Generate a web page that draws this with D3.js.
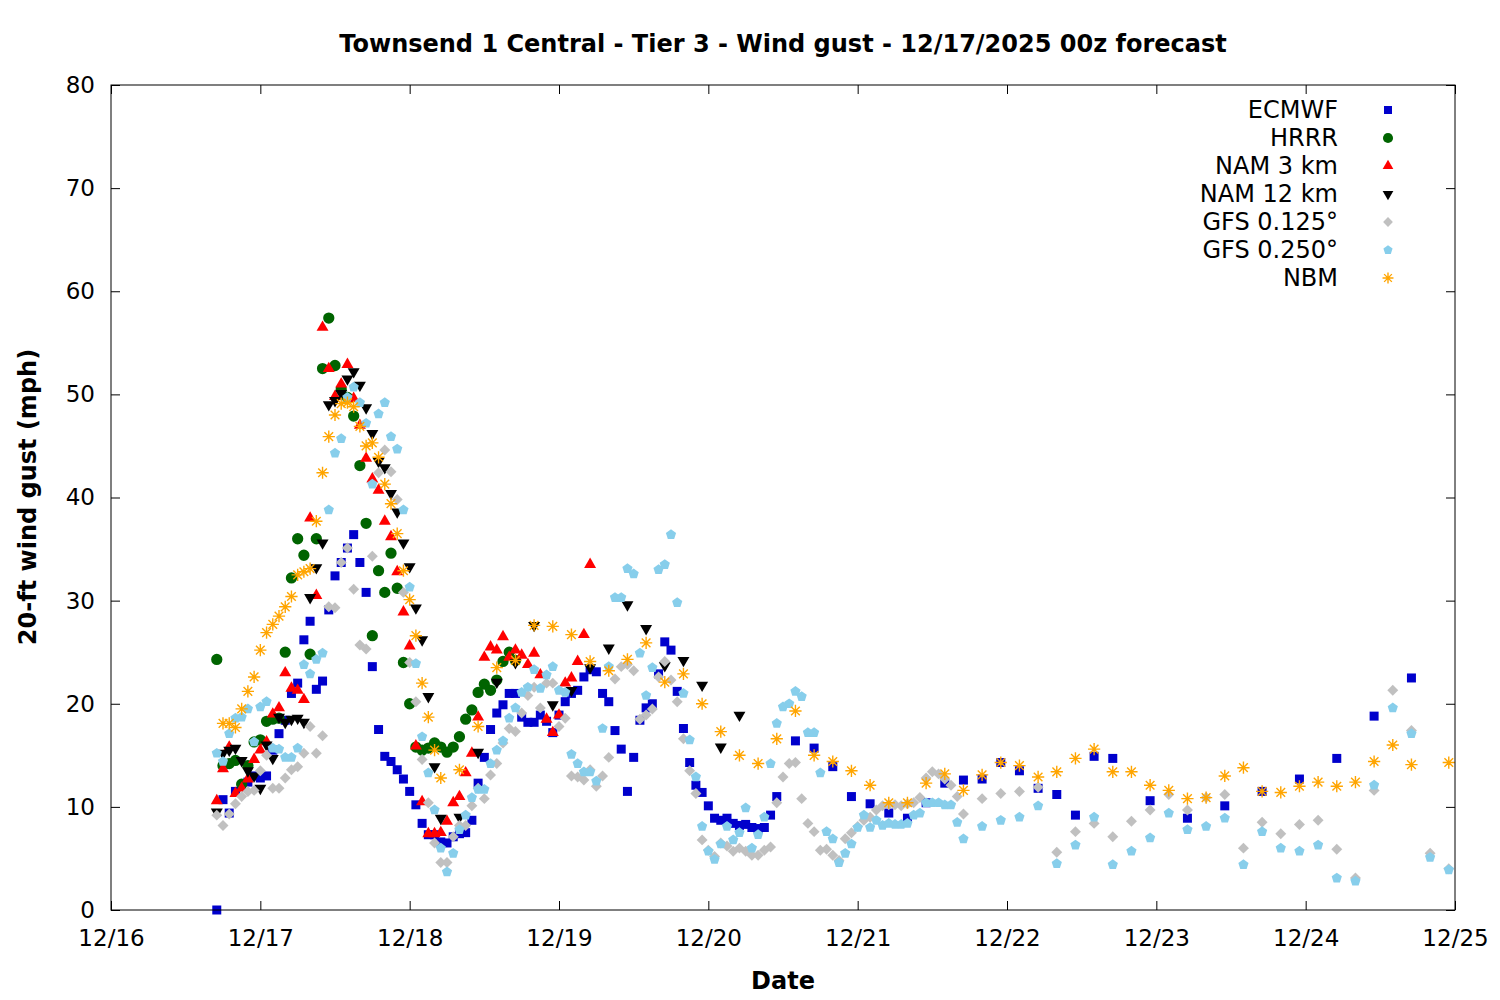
<!DOCTYPE html>
<html>
<head>
<meta charset="utf-8">
<script src="https://cdn.jsdelivr.net/npm/d3@7"></script>
<style>
  body { margin: 0; background: #fff; }
  text { font-family: "DejaVu Sans", sans-serif; }
</style>
</head>
<body>
<svg id="chart" width="1500" height="1000"></svg>
<script>
// --- data (hours after 12/16 17:00 local = 12/17 00z, wind gust mph) ---
const titleText = "Townsend 1 Central - Tier 3 - Wind gust - 12/17/2025 00z forecast";
const runStart = "2025-12-16T17:00:00Z";
const dayTicks = ["2025-12-16", "2025-12-17", "2025-12-18", "2025-12-19", "2025-12-20",
  "2025-12-21", "2025-12-22", "2025-12-23", "2025-12-24", "2025-12-25"];
const yTicks = [0, 10, 20, 30, 40, 50, 60, 70, 80];
const seriesNames = ["ECMWF", "HRRR", "NAM 3 km", "NAM 12 km", "GFS 0.125°", "GFS 0.250°", "NBM"];

const ecmwf = [[0,0],[1,10.7],[2,9.4],[3,11.5],[4,12.0],[5,12.4],[6,13.0],[7,12.8],[8,13.0],[9,15.5],
  [10,17.1],[11,18.4],[12,21.0],[13,22.0],[14,26.2],[15,28.0],[16,21.4],[17,22.2],[18,29.1],[19,32.4],
  [20,33.7],[21,35.1],[22,36.4],[23,33.7],[24,30.8],[25,23.6],[26,17.5],[27,14.9],[28,14.4],[29,13.6],
  [30,12.7],[31,11.5],[32,10.2],[33,8.4],[34,7.3],[35,7.3],[36,6.6],[37,6.5],[38,7.1],[39,7.4],
  [40,7.5],[41,8.7],[42,12.3],[43,14.8],[44,17.5],[45,19.1],[46,19.9],[47,21.0],[48,21.0],[49,18.7],
  [50,18.2],[51,18.2],[52,18.9],[53,18.3],[54,17.2],[55,18.9],[56,20.2],[57,21.0],[58,21.3],[59,22.6],
  [60,23.3],[61,23.1],[62,21.0],[63,20.2],[64,17.4],[65,15.6],[66,11.5],[67,14.8],[68,18.4],[69,19.6],
  [70,20.0],[71,22.9],[72,26.0],[73,25.2],[74,21.2],[75,17.6],[76,14.3],[77,12.1],[78,11.4],[79,10.1],
  [80,8.9],[81,8.7],[82,8.9],[83,8.4],[84,8.2],[85,8.3],[86,8.0],[87,7.9],[88,8.0],[89,9.2],[90,11.0],
  [93,16.4],[96,15.7],[99,13.9],[102,11.0],[105,10.3],[108,9.4],[111,8.9],[114,10.4],[117,12.3],
  [120,12.6],[123,12.7],[126,14.3],[129,13.5],[132,11.8],[135,11.2],[138,9.2],[141,14.9],[144,14.7],
  [150,10.6],[156,8.9],[162,10.1],[168,11.5],[174,12.7],[180,14.7],[186,18.8],[192,22.5]];

const hrrr = [[0,24.3],[1,14.0],[2,14.2],[3,14.5],[4,12.2],[5,14.0],[6,16.3],[7,16.5],[8,18.3],[9,18.5],
  [10,18.6],[11,25.0],[12,32.2],[13,36.0],[14,34.4],[15,24.8],[16,36.0],[17,52.5],[18,57.4],[19,52.8],
  [20,50.5],[21,49.7],[22,47.9],[23,43.1],[24,37.5],[25,26.6],[26,32.9],[27,30.8],[28,34.6],[29,31.2],
  [30,24.0],[31,20.0],[32,15.8],[33,15.5],[34,15.7],[35,16.2],[36,15.8],[37,15.3],[38,15.8],[39,16.8],
  [40,18.5],[41,19.4],[42,21.1],[43,21.9],[44,21.3],[45,22.3],[46,24.1],[47,25.0],[48,24.2]];

const nam3 = [[0,10.6],[1,13.7],[2,15.8],[3,11.3],[4,11.8],[5,12.7],[6,14.6],[7,15.5],[8,16.3],[9,19.0],
  [10,19.6],[11,23.0],[12,21.5],[13,21.3],[14,20.4],[15,38.0],[16,30.5],[17,56.5],[18,52.5],[19,49.8],
  [20,51.0],[21,52.9],[22,49.6],[23,47.0],[24,43.8],[25,41.8],[26,40.7],[27,37.7],[28,36.2],[29,32.8],
  [30,28.9],[31,25.6],[32,15.9],[33,10.5],[34,7.4],[35,7.4],[36,7.5],[37,8.6],[38,10.4],[39,11.0],
  [40,13.3],[41,15.2],[42,18.7],[43,24.5],[44,25.5],[45,25.2],[46,26.5],[47,24.5],[48,25.2],[49,24.7],
  [50,23.8],[51,24.9],[52,22.8],[53,18.5],[54,17.2],[55,18.9],[56,22.0],[57,22.5],[58,24.1],[59,26.7],
  [60,33.5]];

const nam12 = [[0,9.5],[1,15.2],[2,15.5],[3,15.7],[4,14.5],[5,13.5],[6,13.0],[7,11.8],[8,16.0],[9,14.7],
  [10,18.7],[11,18.2],[12,18.5],[13,18.6],[14,18.2],[15,30.3],[16,33.2],[17,35.6],[18,49.0],[19,49.4],
  [20,50.1],[21,51.5],[22,52.2],[23,50.9],[24,48.7],[25,46.2],[26,43.5],[27,42.9],[28,40.4],[29,38.6],
  [30,35.6],[31,33.3],[32,29.3],[33,26.2],[34,20.7],[35,13.9],[36,8.9],[39,9.0],[42,15.3],[45,22.1],
  [48,24.0],[51,27.6],[54,19.9],[57,21.3],[60,23.5],[63,25.4],[66,29.6],[69,27.3],[72,23.7],[75,24.2],
  [78,21.8],[81,15.8],[84,18.9]];

const gfs125 = [[0,9.2],[1,8.2],[2,9.3],[3,10.3],[4,11.0],[5,11.5],[6,11.6],[7,13.5],[8,15.0],[9,11.8],
  [10,11.8],[11,12.8],[12,13.6],[13,13.9],[14,15.2],[15,17.8],[16,15.2],[17,16.9],[18,29.4],[19,29.3],
  [20,33.7],[21,35.1],[22,31.1],[23,25.7],[24,25.3],[25,34.3],[26,42.4],[27,44.6],[28,42.5],[29,39.8],
  [30,30.8],[31,24.0],[32,20.2],[33,14.6],[34,10.4],[35,6.5],[36,4.6],[37,4.6],[38,7.1],[39,8.2],
  [40,8.2],[41,10.1],[42,11.8],[43,10.8],[44,13.1],[45,14.2],[46,16.2],[47,17.6],[48,17.3],[49,19.1],
  [50,20.8],[51,21.6],[52,19.6],[53,22.0],[54,22.0],[55,17.8],[56,18.6],[57,13.0],[58,12.9],[59,12.6],
  [60,13.6],[61,12.0],[62,13.0],[63,14.8],[64,22.4],[65,23.6],[66,23.8],[67,23.2],[68,18.5],[69,18.9],
  [70,19.5],[71,22.6],[72,24.1],[73,22.3],[74,20.2],[75,16.6],[76,13.5],[77,11.3],[78,6.8],[79,5.8],
  [80,5.2],[81,6.5],[82,6.2],[83,5.7],[84,6.0],[85,5.7],[86,5.3],[87,5.3],[88,5.8],[89,6.1],
  [90,10.4],[91,12.9],[92,14.2],[93,14.3],[94,10.8],[95,8.4],[96,7.6],[97,5.8],[98,5.9],[99,5.3],
  [100,4.8],[101,6.9],[102,7.5],[103,8.1],[104,8.7],[105,9.0],[106,9.7],[107,10.1],[108,10.2],[109,10.2],
  [110,10.1],[111,10.3],[112,10.4],[113,10.9],[114,12.8],[115,13.4],[116,13.2],[117,12.7],[118,12.1],
  [119,11.0],[120,9.3],[123,10.8],[126,11.3],[129,11.5],[132,11.9],[135,5.6],[138,7.6],[141,8.4],
  [144,7.1],[147,8.6],[150,9.7],[153,11.2],[156,9.7],[159,10.9],[162,11.2],[165,6.0],[168,8.5],
  [171,7.4],[174,8.3],[177,8.7],[180,5.9],[183,3.1],[186,11.6],[189,21.3],[192,17.4],[195,5.5],[198,4.0]];

const gfs250 = [[0,15.2],[1,14.4],[2,17.1],[3,18.6],[4,18.7],[5,19.5],[6,16.3],[7,19.7],[8,20.2],[9,15.7],
  [10,15.6],[11,14.8],[12,14.8],[13,15.7],[14,23.8],[15,22.9],[16,24.3],[17,24.9],[18,38.8],[19,44.3],
  [20,45.7],[21,49.7],[22,50.7],[23,49.2],[24,47.2],[25,41.3],[26,48.1],[27,49.2],[28,45.9],[29,44.7],
  [30,38.8],[31,31.3],[32,23.9],[33,16.8],[34,13.3],[35,9.7],[36,6.0],[37,3.7],[38,5.5],[39,7.8],
  [40,9.2],[41,10.9],[42,11.7],[43,11.7],[44,14.2],[45,15.5],[46,16.4],[47,18.6],[48,19.6],[49,21.1],
  [50,21.6],[51,23.3],[52,21.5],[53,22.8],[54,23.6],[55,21.3],[56,21.1],[57,15.1],[58,14.2],[59,13.4],
  [60,13.4],[61,12.5],[62,17.6],[63,23.6],[64,30.3],[65,30.3],[66,33.1],[67,32.6],[68,24.9],[69,20.8],
  [70,23.5],[71,33.0],[72,33.5],[73,36.4],[74,29.8],[75,21.0],[76,16.5],[77,12.9],[78,8.1],[79,5.7],
  [80,4.9],[81,6.4],[82,8.1],[83,6.8],[84,7.5],[85,9.9],[86,6.0],[87,7.3],[88,9.0],[89,14.2],
  [90,18.1],[91,19.7],[92,20.0],[93,21.2],[94,20.7],[95,17.2],[96,17.2],[97,13.3],[98,7.6],[99,6.9],
  [100,4.6],[101,5.5],[102,6.4],[103,8.0],[104,9.2],[105,8.0],[106,8.7],[107,8.2],[108,8.4],[109,8.3],
  [110,8.3],[111,8.4],[112,9.2],[113,9.4],[114,10.4],[115,10.4],[116,10.4],[117,10.2],[118,10.2],
  [119,8.5],[120,6.9],[123,8.1],[126,8.7],[129,9.0],[132,10.1],[135,4.5],[138,6.3],[141,9.0],
  [144,4.4],[147,5.7],[150,7.0],[153,9.4],[156,7.8],[159,8.1],[162,8.9],[165,4.4],[168,7.6],
  [171,6.0],[174,5.7],[177,6.3],[180,3.1],[183,2.8],[186,12.1],[189,19.6],[192,17.1],[195,5.1],[198,3.9]];

const nbm = [[1,18.1],[2,18.1],[3,17.7],[4,19.5],[5,21.2],[6,22.6],[7,25.2],[8,26.9],[9,27.7],
  [10,28.5],[11,29.4],[12,30.4],[13,32.5],[14,32.8],[15,33.1],[16,37.7],[17,42.4],[18,45.9],[19,48.0],
  [20,49.1],[21,49.2],[22,48.8],[23,46.9],[24,45.0],[25,45.3],[26,43.9],[27,41.3],[28,39.4],[29,36.5],
  [30,32.9],[31,30.1],[32,26.6],[33,22.0],[34,18.7],[35,15.5],[36,12.8],[39,13.6],[42,17.8],[45,23.5],
  [48,24.2],[51,27.6],[54,27.5],[57,26.7],[60,24.1],[63,23.2],[66,24.3],[69,25.9],[72,22.1],[75,22.9],
  [78,20.0],[81,17.3],[84,15.0],[87,14.2],[90,16.6],[93,19.3],[96,15.0],[99,14.4],[102,13.5],[105,12.1],
  [108,10.4],[111,10.4],[114,12.3],[117,13.2],[120,11.6],[123,13.1],[126,14.3],[129,14.0],[132,12.9],
  [135,13.4],[138,14.7],[141,15.6],[144,13.4],[147,13.4],[150,12.1],[153,11.6],[156,10.8],[159,10.9],
  [162,13.0],[165,13.8],[168,11.5],[171,11.4],[174,12.0],[177,12.4],[180,12.0],[183,12.4],[186,14.4],
  [189,16.0],[192,14.1],[198,14.3]];

// --- layout ---
const svg = d3.select("#chart");
const plotLeft = 111, plotRight = 1455, plotTop = 85, plotBottom = 910;
const t0 = new Date(runStart).getTime();
const timeOf = h => new Date(t0 + h * 3600e3);

const x = d3.scaleUtc()
  .domain([new Date("2025-12-16T00:00:00Z"), new Date("2025-12-25T00:00:00Z")])
  .range([plotLeft, plotRight]);
const y = d3.scaleLinear().domain([0, 80]).range([plotBottom, plotTop]);

// custom gnuplot-like symbols
const pentagon = {
  draw(ctx, size) {
    const r = Math.sqrt(size) * 0.62;
    for (let k = 0; k < 5; k++) {
      const a = -Math.PI / 2 + k * 2 * Math.PI / 5;
      k ? ctx.lineTo(r * Math.cos(a), r * Math.sin(a)) : ctx.moveTo(r * Math.cos(a), r * Math.sin(a));
    }
    ctx.closePath();
  }
};
const star = {
  draw(ctx, size) {
    const r = Math.sqrt(size) / 2, d = r * Math.SQRT1_2;
    ctx.moveTo(-r, 0); ctx.lineTo(r, 0);
    ctx.moveTo(0, -r); ctx.lineTo(0, r);
    ctx.moveTo(-d, -d); ctx.lineTo(d, d);
    ctx.moveTo(-d, d); ctx.lineTo(d, -d);
  }
};

const styles = [
  { data: ecmwf,  color: "#0000cc", type: d3.symbolSquare,   size: 81, rot: 0 },
  { data: hrrr,   color: "#006400", type: d3.symbolCircle,   size: 100, rot: 0 },
  { data: nam3,   color: "#ff0000", type: d3.symbolTriangle, size: 62, rot: 0 },
  { data: nam12,  color: "#000000", type: d3.symbolTriangle, size: 62, rot: 180 },
  { data: gfs125, color: "#c0c0c0", type: d3.symbolSquare,   size: 60, rot: 45 },
  { data: gfs250, color: "#87ceeb", type: pentagon,          size: 75, rot: 0 },
  { data: nbm,    color: "#ffa500", type: star,              size: 150, rot: 0, line: true }
];

// axes: ticks inward, mirrored on top/right
const dayDates = dayTicks.map(d => new Date(d + "T00:00:00Z"));
const tickLen = 9;

svg.append("g")
  .attr("transform", `translate(0,${plotBottom})`)
  .call(d3.axisBottom(x).tickValues(dayDates).tickFormat(d3.utcFormat("%m/%d"))
    .tickSizeInner(-tickLen).tickSizeOuter(0).tickPadding(20))
  .call(g => g.select(".domain").remove());
svg.append("g")
  .attr("transform", `translate(0,${plotTop})`)
  .call(d3.axisTop(x).tickValues(dayDates).tickFormat("").tickSizeInner(-tickLen).tickSizeOuter(0))
  .call(g => g.select(".domain").remove());
svg.append("g")
  .attr("transform", `translate(${plotLeft},0)`)
  .call(d3.axisLeft(y).tickValues(yTicks).tickSizeInner(-tickLen).tickSizeOuter(0).tickPadding(16))
  .call(g => g.select(".domain").remove());
svg.append("g")
  .attr("transform", `translate(${plotRight},0)`)
  .call(d3.axisRight(y).tickValues(yTicks).tickFormat("").tickSizeInner(-tickLen).tickSizeOuter(0))
  .call(g => g.select(".domain").remove());

svg.selectAll(".tick text")
  .attr("font-family", "DejaVu Sans")
  .attr("font-size", 23)
  .attr("fill", "#000");
svg.selectAll(".tick line").attr("stroke", "#000");

// series, drawn in legend order
styles.forEach(s => {
  const sym = d3.symbol().type(s.type).size(s.size);
  svg.append("g").selectAll("path")
    .data(s.data)
    .join("path")
    .attr("d", sym)
    .attr("transform", d => `translate(${x(timeOf(d[0]))},${y(d[1])}) rotate(${s.rot})`)
    .attr("fill", s.line ? "none" : s.color)
    .attr("stroke", s.line ? s.color : "none")
    .attr("stroke-width", s.line ? 1.4 : 0);
});

// frame
svg.append("rect")
  .attr("x", plotLeft).attr("y", plotTop)
  .attr("width", plotRight - plotLeft).attr("height", plotBottom - plotTop)
  .attr("fill", "none").attr("stroke", "#000").attr("stroke-width", 1);

// legend
const legend = svg.append("g");
seriesNames.forEach((name, i) => {
  const ly = 110 + i * 28;
  legend.append("text")
    .attr("x", 1338).attr("y", ly + 8)
    .attr("text-anchor", "end")
    .attr("font-size", 24)
    .text(name);
  const s = styles[i];
  legend.append("path")
    .attr("d", d3.symbol().type(s.type).size(s.size * 0.8))
    .attr("transform", `translate(1388,${ly}) rotate(${s.rot})`)
    .attr("fill", s.line ? "none" : s.color)
    .attr("stroke", s.line ? s.color : "none")
    .attr("stroke-width", s.line ? 1.4 : 0);
});

// titles
svg.append("text")
  .attr("x", 783).attr("y", 52)
  .attr("text-anchor", "middle")
  .attr("font-size", 24).attr("font-weight", "bold")
  .text(titleText);
svg.append("text")
  .attr("x", 783).attr("y", 989)
  .attr("text-anchor", "middle")
  .attr("font-size", 24).attr("font-weight", "bold")
  .text("Date");
svg.append("text")
  .attr("transform", "translate(36,497) rotate(-90)")
  .attr("text-anchor", "middle")
  .attr("font-size", 24).attr("font-weight", "bold")
  .text("20-ft wind gust (mph)");
</script>
</body>
</html>
